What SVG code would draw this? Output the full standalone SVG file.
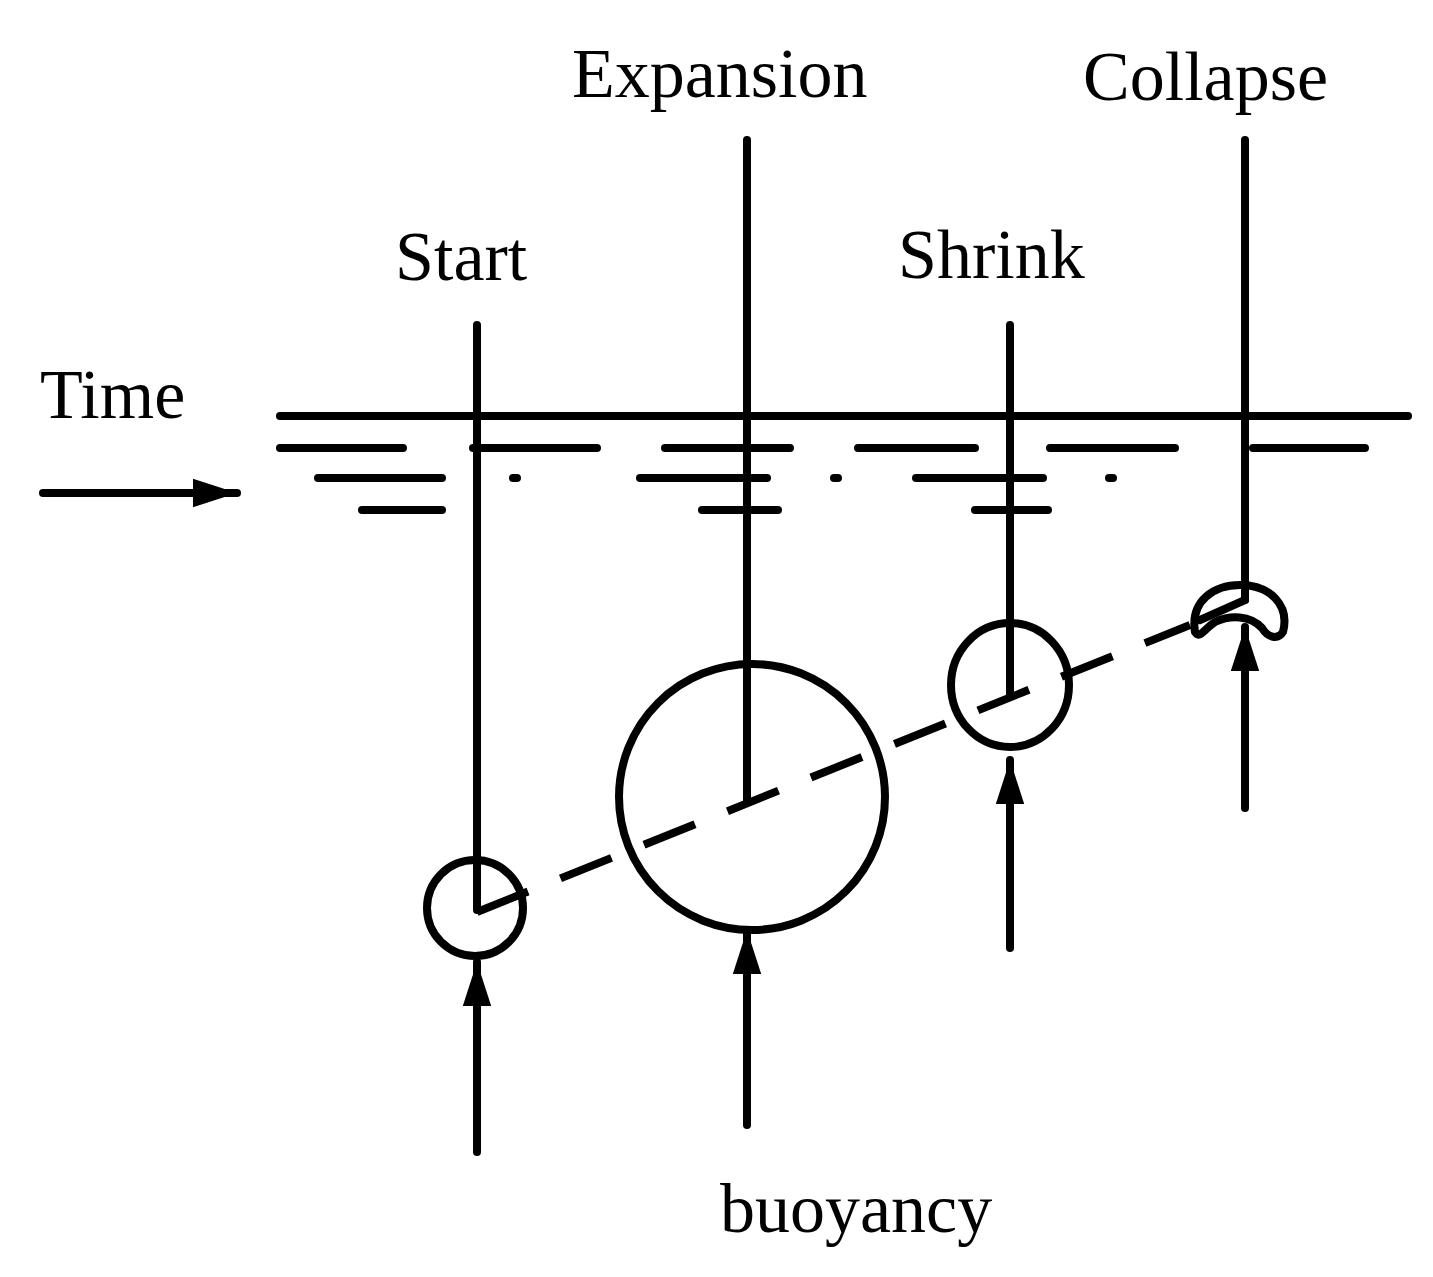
<svg xmlns="http://www.w3.org/2000/svg" width="1433" height="1277" viewBox="0 0 1433 1277">
<style>
.l{stroke:#000;stroke-width:8;fill:none;stroke-linecap:round}
.t{font-family:"Liberation Serif",serif;font-size:70px;fill:#000}
</style>
<defs><marker id="a" markerWidth="44" markerHeight="62" refX="62" refY="22" orient="auto" markerUnits="userSpaceOnUse" viewBox="0 0 62 44"><path d="M0,2 L62,22 L0,42 Z" fill="#000"/></marker></defs>
<rect width="1433" height="1277" fill="#fff"/>
<g id="labels">
<text class="t" x="572" y="97">Expansion</text>
<text class="t" x="1083" y="100">Collapse</text>
<text class="t" x="395" y="280">Start</text>
<text class="t" x="898" y="278">Shrink</text>
<text class="t" x="40" y="418">Time</text>
<text class="t" x="720" y="1232">buoyancy</text>
</g>
<g id="water" class="l">
<path d="M280 416H1408"/>
<path d="M280 448H403M473 448H597M665 448H790M858 448H975M1050 448H1175M1253 448H1365"/>
<path d="M318 478H442M640 478H767M916 478H1043M513 478H517M834 478H838M1109 478H1113"/>
<path d="M362 510H442M702 510H778M975 510H1048"/>
</g>
<g id="bubbles" class="l">
<circle cx="475" cy="908" r="48"/>
<circle cx="752" cy="797" r="133"/>
<ellipse cx="1010" cy="685" rx="59" ry="62"/>
<path d="M1195 632 C1190 600 1215 585 1240 585 C1270 585 1290 605 1283 632 C1278 640 1268 638 1262 628 C1250 615 1230 615 1215 622 C1205 628 1200 640 1195 632 Z"/>
</g>
<g id="connectors" class="l">
<path d="M477 325V910M747 140V800M1010 325V695M1245 140V600"/>
<path d="M477 912L1190 625" stroke-dasharray="55 35" stroke-linecap="butt"/>
<path d="M1245 600L1200 620"/>
<path d="M477 1152V962" marker-end="url(#a)"/>
<path d="M747 1125V930" marker-end="url(#a)"/>
<path d="M1010 948V760" marker-end="url(#a)"/>
<path d="M1245 808V627" marker-end="url(#a)"/>
<path d="M43 493H237" marker-end="url(#a)"/>
</g>
</svg>
